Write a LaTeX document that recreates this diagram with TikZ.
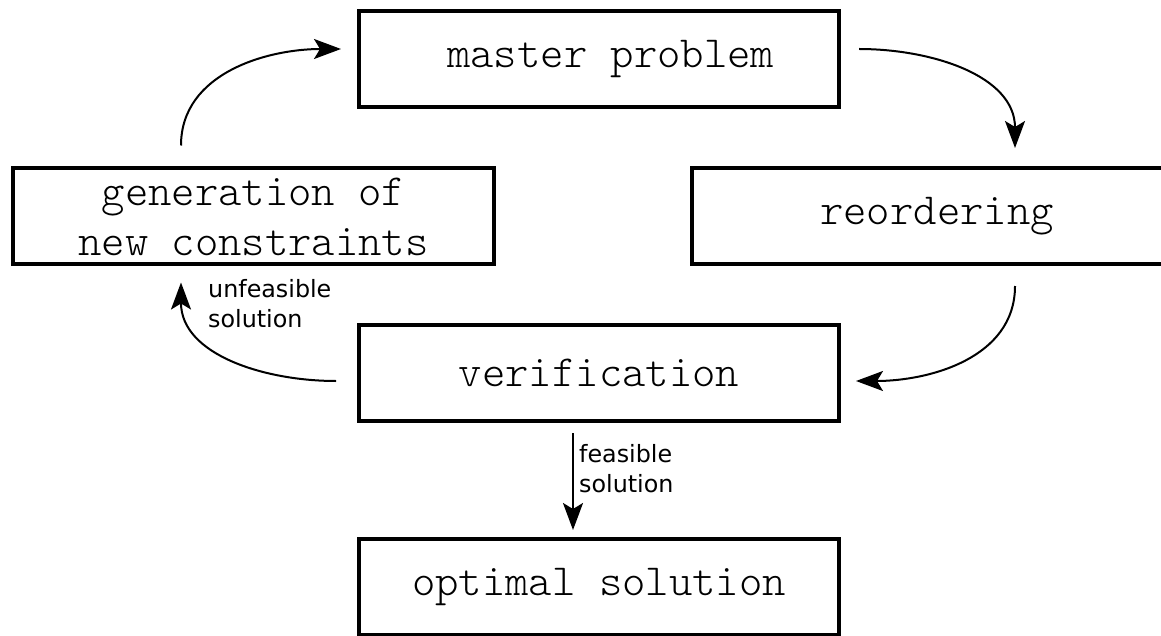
\documentclass[tikz,border=0pt]{standalone}
\usepackage{fontspec}
\newfontfamily\boxfont{lmmonolt10-regular}[Extension=.otf]
\newfontfamily\labelfont{DejaVu Sans}
\usetikzlibrary{arrows.meta}

\tikzset{
  stagebox/.style={draw=black, line width=4pt, fill=white,
    minimum width=480pt, minimum height=96pt, inner sep=0pt,
    align=center, font=\boxfont\fontsize{44.5}{50}\selectfont},
  flow/.style={draw=black, line width=2pt,
    -{Stealth[length=27pt,width=20pt,inset=6pt]}},
  outcome/.style={align=left, inner sep=0pt,
    font=\labelfont\fontsize{23.8}{30}\selectfont}
}

\begin{document}
\begin{tikzpicture}[x=1pt,y=-1pt]
  \useasboundingbox (0,0) rectangle (1161,636);
  \clip (0,0) rectangle (1161,636);

  % the five stages of the loop
  \node[stagebox] (master) at (599,59) {\hspace*{23.5pt}master problem};
  \node[stagebox, minimum width=481pt] (gen) at (253.5,216.5)
        {generation of\\new constraints};
  \node[stagebox, minimum width=490pt] (reord) at (937,216) {reordering};
  \node[stagebox] (verif) at (599,373) {verification};
  \node[stagebox] (opt) at (599,587) {optimal solution};

  % connectors around the loop
  \draw[flow] ([shift={(-72.5pt,21pt)}]gen.north)
      to[out=90,in=180] ([shift={(-16pt,10pt)}]master.west);
  \draw[flow] ([shift={(18pt,10pt)}]master.east)
      to[out=0,in=90] ([shift={(78pt,18pt)}]reord.north);
  \draw[flow] ([shift={(78pt,-20pt)}]reord.south)
      to[out=-90,in=0] ([shift={(15pt,-8pt)}]verif.east);
  \draw[flow] ([shift={(-21pt,-8pt)}]verif.west)
      to[out=180,in=-90] ([shift={(-72.5pt,-16pt)}]gen.south);
  \draw[flow] ([shift={(-26pt,-10pt)}]verif.south)
      -- ([shift={(-26pt,7pt)}]opt.north);

  % outcome labels
  \node[outcome, anchor=north west] (unf) at (208,279) {unfeasible\\solution};
  \node[outcome, anchor=north west] (fea) at (579,444) {feasible\\solution};
\end{tikzpicture}
\end{document}
